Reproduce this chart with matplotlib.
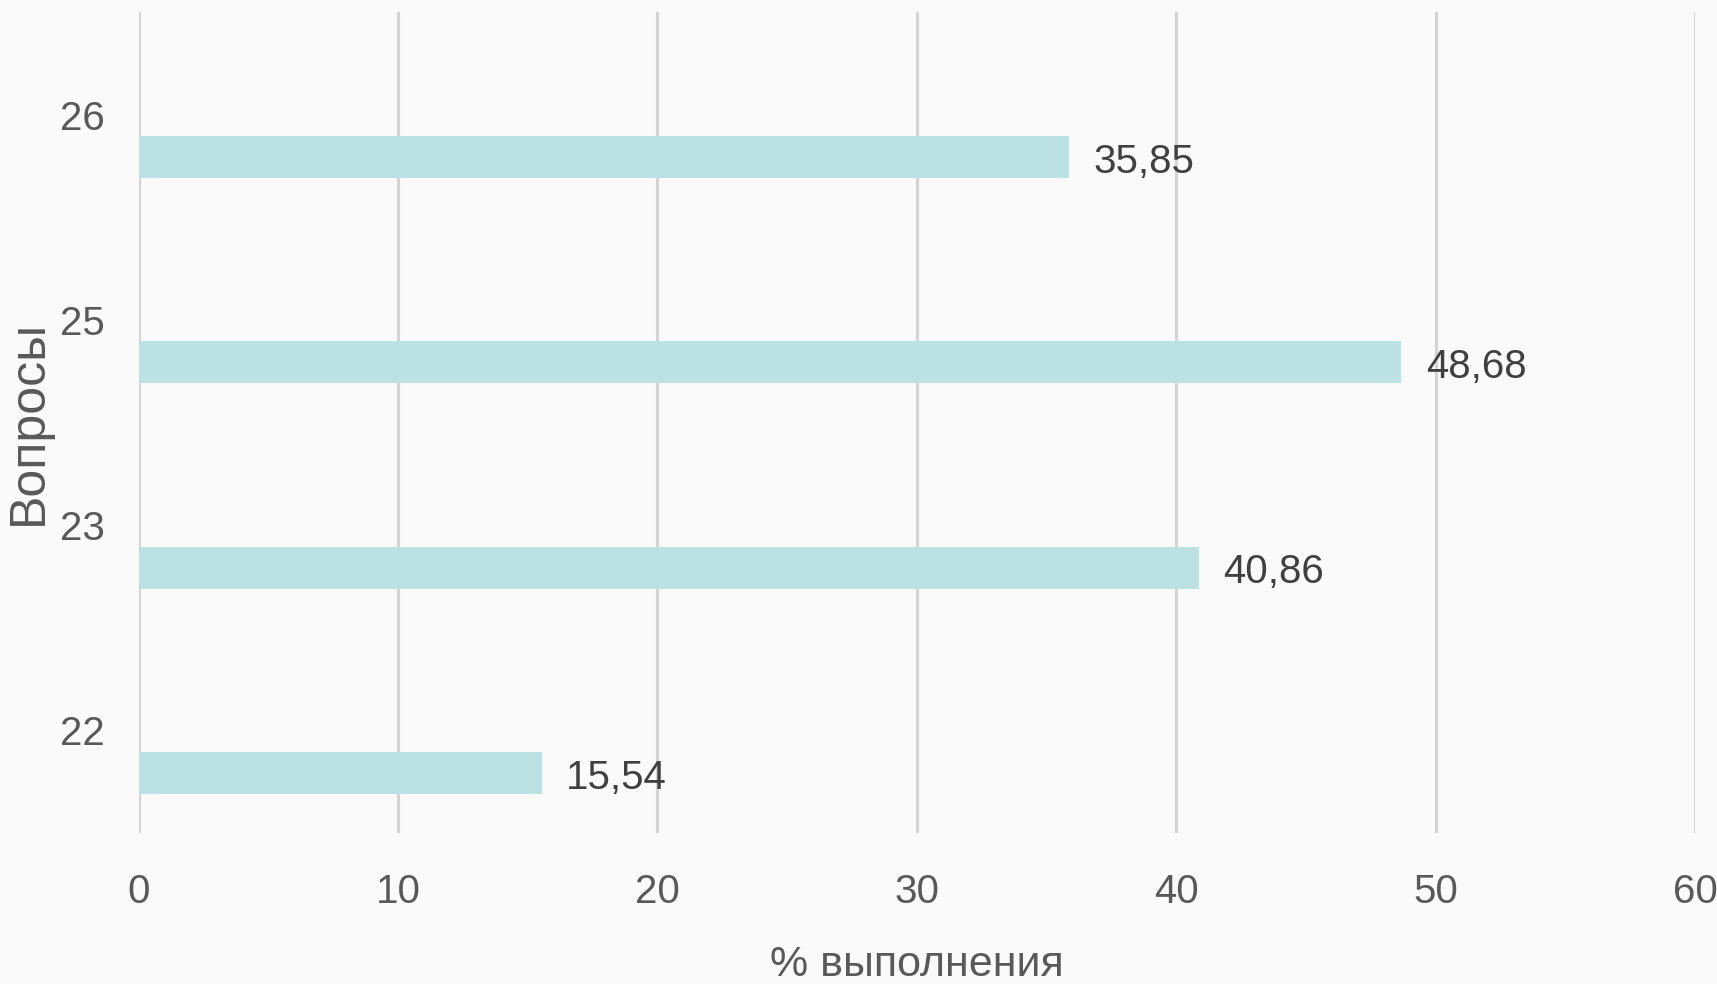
import matplotlib.pyplot as plt
import numpy as np

# data
questions = ["22", "23", "25", "26"]
percent = [15.54, 40.86, 48.68, 35.85]
value_labels = ["15,54", "40,86", "48,68", "35,85"]
x_ticks = [0, 10, 20, 30, 40, 50, 60]

plt.rcParams["font.family"] = ["Liberation Sans", "DejaVu Sans"]
bar_color = "#bce1e3"
bg = "#fafafa"

fig = plt.figure(figsize=(17.17, 9.84), dpi=100, facecolor=bg)
ax = fig.add_axes([0.0807, 0.1535, 0.9065, 0.8343])
ax.set_facecolor(bg)

pos = np.arange(len(questions))
ax.barh(pos - 0.207, percent, height=0.204, color=bar_color, zorder=2)

for y, v, lab in zip(pos, percent, value_labels):
    ax.text(v + 0.95, y - 0.23, lab, va="center", ha="left",
            fontsize=29, color="#404040")

ax.set_xlim(0, 60)
ax.set_ylim(-0.5, 3.5)
ax.set_xticks(x_ticks)
ax.set_yticks(pos)
ax.set_yticklabels(questions)
ax.grid(axis="x", color="#d4d4d4", linewidth=2.2, zorder=0)
ax.grid(axis="y", visible=False)
ax.set_axisbelow(True)
for s in ax.spines.values():
    s.set_visible(False)
ax.tick_params(length=0, labelsize=29)
ax.tick_params(axis="x", pad=29, labelcolor="#595959")
ax.tick_params(axis="y", pad=24, labelcolor="#595959")

ax.set_xlabel("% выполнения", fontsize=31, color="#595959")
ax.set_ylabel("Вопросы", fontsize=36, color="#595959")
ax.xaxis.set_label_coords(0.5, -0.136)
ax.yaxis.set_label_coords(-0.0556, 0.5)

plt.savefig("out.png", dpi=100, facecolor=bg)
